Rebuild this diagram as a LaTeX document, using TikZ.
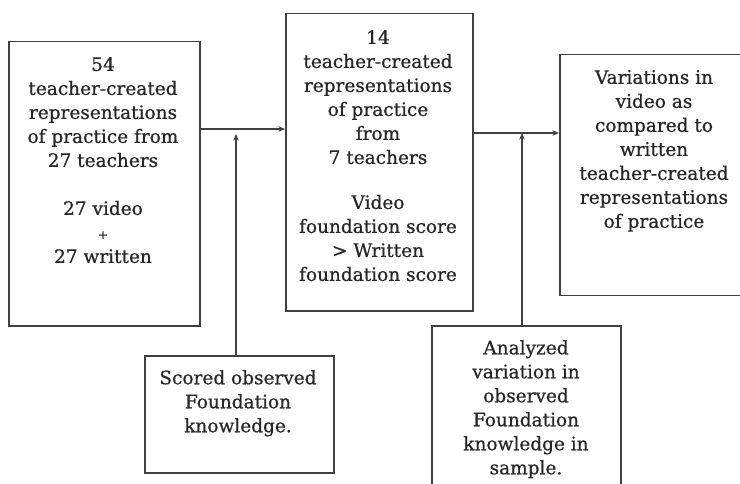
\documentclass[tikz,border=0pt]{standalone}
\usepackage{fontspec}
\setmainfont{DejaVu Serif}
\usetikzlibrary{arrows.meta}
\definecolor{ink}{HTML}{262626}
\definecolor{edge}{HTML}{404040}
\begin{document}
\begin{tikzpicture}[x=1pt,y=-1pt,
  boxstyle/.style={draw=edge,line width=1.5pt,inner sep=0pt,anchor=north west},
  txt/.style={text=ink,align=center,anchor=north,inner sep=0pt,
    font=\fontsize{18.5}{24}\selectfont\addfontfeatures{FakeBold=0.6}},
  conn/.style={draw=edge,line width=1.3pt},
  arr/.style={conn,-{Stealth[length=6.5pt,width=5.5pt]}}]
\clip (0,0) rectangle (740,484);
\fill[white] (0,0) rectangle (740,484);
% boxes
\node[boxstyle,minimum width=191pt,minimum height=284pt] (A) at (8,41) {};
\node[boxstyle,minimum width=187pt,minimum height=297pt] (B) at (285,13) {};
\node[boxstyle,minimum width=200pt,minimum height=241pt] (C) at (559,54) {};
\node[boxstyle,minimum width=189pt,minimum height=117pt] (D) at (144,355) {};
\node[boxstyle,minimum width=189pt,minimum height=180pt] (E) at (431,325) {};
% texts
\node[txt] (At) at (103,57) {54\\teacher-created\\representations\\of practice from\\27 teachers\\[24pt]27 video\\{\fontsize{12}{14}\selectfont +}\\27 written};
\node[txt] (Bt) at (378,30) {14\\teacher-created\\representations\\of practice\\from\\7 teachers\\[21pt]Video\\foundation score\\> Written\\foundation score};
\node[txt] (Ct) at (654,70) {Variations in\\video as\\compared to\\written\\teacher-created\\representations\\of practice};
\node[txt] (Dt) at (238,370) {Scored observed\\Foundation\\knowledge.};
\node[txt] (Et) at (526,340) {Analyzed\\variation in\\observed\\Foundation\\knowledge in\\sample.};
% connectors
\coordinate (j1) at (236,134);
\coordinate (j2) at (522,133);
\draw[arr] (A.east |- 0,129) -- (B.west |- 0,129);
\draw[arr] (B.east |- 0,133) -- (C.west |- 0,133);
\draw[arr] (D.north -| j1) -- (j1);
\draw[arr] (E.north -| j2) -- (j2);
\end{tikzpicture}
\end{document}
